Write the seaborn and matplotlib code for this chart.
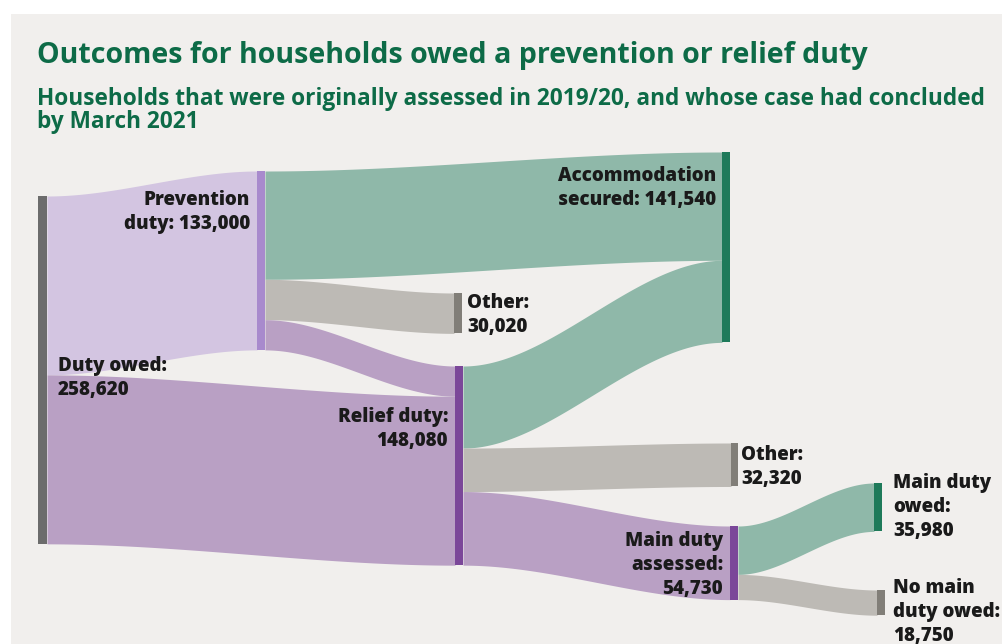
import numpy as np
import matplotlib
matplotlib.use("Agg")
import matplotlib.pyplot as plt
import seaborn as sns

# nodes of the sankey
node_names = ["duty", "prev", "relief", "other1", "accom", "other2", "mda", "mdo", "nomain"]
node_labels = [
    "Duty owed:\n258,620",
    "Prevention\nduty: 133,000",
    "Relief duty:\n148,080",
    "Other:\n30,020",
    "Accommodation\nsecured: 141,540",
    "Other:\n32,320",
    "Main duty\nassessed:\n54,730",
    "Main duty\nowed:\n35,980",
    "No main\nduty owed:\n18,750",
]

# flows between nodes (households)
flow_source = ["duty", "duty", "prev", "prev", "prev", "relief", "relief", "relief", "mda", "mda"]
flow_target = ["prev", "relief", "accom", "other1", "relief", "accom", "other2", "mda", "mdo", "nomain"]
flow_value = [133000, 125620, 80520, 30020, 22460, 61020, 32320, 54730, 35980, 18750]

# layout (pixels)
K = 1.345 / 1000  # px per household
layout = {
    # x, width, top, colour, label x, first baseline, ha
    "duty":   (38, 9, 196, "#6c6c6c", 58, 371, "left"),
    "prev":   (257, 8, 171, "#a88acd", 250, 205, "right"),
    "relief": (455, 8, 366, "#7b4799", 448, 422, "right"),
    "other1": (454, 8, 293, "#817e78", 467, 308, "left"),
    "accom":  (722, 8, 152, "#1e7a5a", 716, 181, "right"),
    "other2": (731, 7, 443, "#817e78", 741, 460, "left"),
    "mda":    (730, 8, 526, "#7b4799", 723, 546, "right"),
    "mdo":    (874, 8, 483, "#1e7a5a", 893, 488, "left"),
    "nomain": (877, 8, 590, "#817e78", 893, 593, "left"),
}
flow_colour = {
    "prev": "#d3c5e1", "relief": "#b9a0c4", "mda": "#b9a0c4",
    "accom": "#8fb8a9", "mdo": "#8fb8a9",
    "other1": "#bdbab5", "other2": "#bdbab5", "nomain": "#bdbab5",
}

sns.set_style("white")
plt.rcParams["font.family"] = ["Open Sans", "DejaVu Sans"]

fig = plt.figure(figsize=(10.02, 6.44), dpi=100, facecolor="white")
ax = fig.add_axes([11 / 1002, 0, 991 / 1002, 630 / 644])
ax.set_facecolor("#f1efed")
ax.set_xlim(11, 1002)
ax.set_ylim(644, 14)
ax.axis("off")
ax.add_patch(plt.Rectangle((11, 14), 991, 630, color="#f1efed", zorder=0))

totals = {n: {"in": 0, "out": 0} for n in node_names}
for s, t, v in zip(flow_source, flow_target, flow_value):
    totals[s]["out"] += v
    totals[t]["in"] += v
height = {n: max(d["in"], d["out"]) * K for n, d in totals.items()}
top = {n: layout[n][2] for n in node_names}

# stack outgoing / incoming flows by the other node's position
out_off = dict(top)
in_off = dict(top)
idx = list(range(len(flow_value)))
out_pos = {}
for i in sorted(idx, key=lambda i: top[flow_target[i]]):
    s = flow_source[i]
    out_pos[i] = out_off[s]
    out_off[s] += flow_value[i] * K
in_pos = {}
for i in sorted(idx, key=lambda i: top[flow_source[i]]):
    t = flow_target[i]
    in_pos[i] = in_off[t]
    in_off[t] += flow_value[i] * K

tt = np.linspace(0, 1, 200)
ss = 3 * tt ** 2 - 2 * tt ** 3
for i in idx:
    s, t, v = flow_source[i], flow_target[i], flow_value[i]
    x0 = layout[s][0] + layout[s][1]
    x1 = layout[t][0]
    xs = x0 + (x1 - x0) * tt
    y_top = out_pos[i] + (in_pos[i] - out_pos[i]) * ss
    y_bot = y_top + v * K
    ax.fill_between(xs, y_top, y_bot, color=flow_colour[t], lw=0, zorder=1)

for n, lab in zip(node_names, node_labels):
    x, w, y0, col, lx, ly, ha = layout[n]
    ax.bar(x, height[n], bottom=y0, width=w, align="edge", color=col, lw=0, zorder=2)
    for j, line in enumerate(lab.split("\n")):
        ax.text(lx, ly + j * 24, line, ha=ha, va="baseline", fontsize=13.5,
                fontweight="heavy", color="#1a1a1a", zorder=3)


def fit(txt, target):
    fig.canvas.draw()
    w = txt.get_window_extent().width
    txt.set_fontsize(txt.get_fontsize() * target / w)


green = "#0d6b47"
t1 = ax.text(37, 63, "Outcomes for households owed a prevention or relief duty",
             fontsize=20, fontweight="bold", color=green, va="baseline")
t2 = ax.text(37, 105, "Households that were originally assessed in 2019/20, and whose case had concluded",
             fontsize=16, fontweight="bold", color=green, va="baseline")
fit(t1, 833)
fit(t2, 950)
ax.text(37, 128, "by March 2021", fontsize=t2.get_fontsize(), fontweight="bold",
        color=green, va="baseline")

fig.savefig("out.png", dpi=100, facecolor="white")
